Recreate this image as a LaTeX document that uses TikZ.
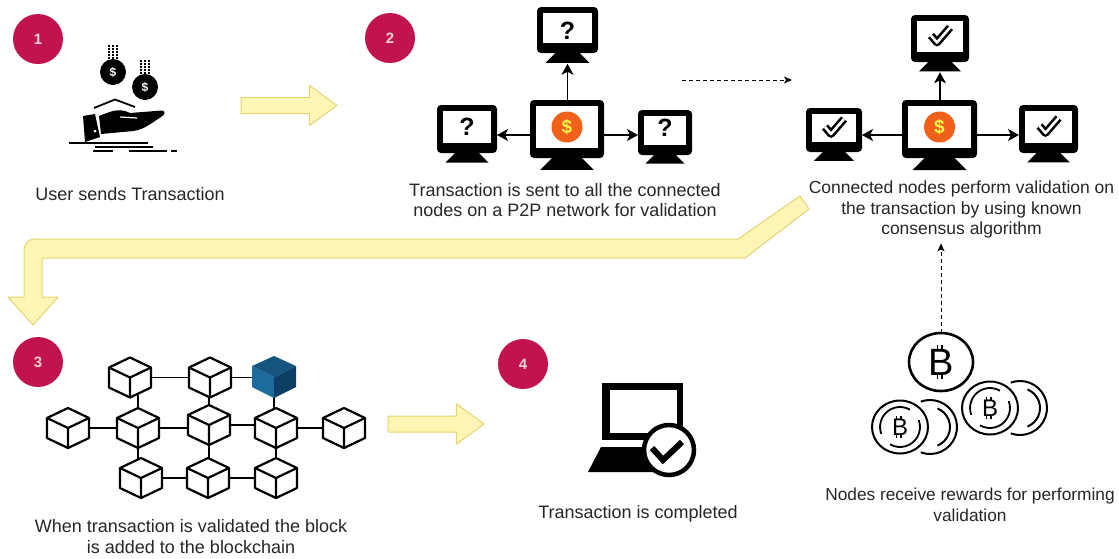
\documentclass[tikz,border=0pt]{standalone}
\usepackage{fontspec}
\setmainfont{Liberation Sans}
\usetikzlibrary{arrows.meta,backgrounds,shapes.geometric,shapes.arrows}
\definecolor{badgered}{HTML}{C0134F}
\definecolor{flowfill}{HTML}{FFF6B5}
\definecolor{flowline}{HTML}{E3D470}
\definecolor{usdorange}{HTML}{F0601A}
\definecolor{cubeleft}{HTML}{1C6A9E}
\definecolor{cuberight}{HTML}{0B3F66}
\definecolor{cubetop}{HTML}{14547F}
\tikzset{
  label/.style={align=center,inner sep=0pt,font=\fontsize{18}{20.5}\selectfont,text=black!85},
  narrowlabel/.style={label,font=\fontsize{17.5}{20.5}\selectfont},
  badge/.style={circle,fill=badgered,minimum size=50pt,inner sep=0pt,text=pink!70,font=\fontsize{15}{15}\selectfont\bfseries},
  flow/.style={draw=flowline,fill=flowfill,line width=1pt,line join=round},
  flowarrow/.style={flow,single arrow,inner xsep=0pt,inner ysep=7.5pt,minimum height=96pt,single arrow head extend=12pt,single arrow tip angle=72},
  link/.style={-{Stealth[length=11pt,width=12pt,inset=3pt]},line width=1.2pt},
  dashlink/.style={-{Stealth[length=8pt,width=7pt,inset=2pt]},line width=1pt,dash pattern=on 4pt off 3pt},
  casing/.style={fill=black,rounded corners=4pt,inner sep=0pt,outer sep=0pt},
  screen/.style={fill=white,inner sep=0pt,outer sep=0pt},
  ask/.style={font=\fontsize{25}{25}\selectfont\bfseries,text=black,inner sep=0pt},
  usd/.style={circle,fill=usdorange,minimum size=31pt,inner sep=0pt,text=yellow!70,font=\fontsize{19}{19}\selectfont\bfseries},
  tickmark/.style={line width=2.6pt,double=white,double distance=2.6pt,line join=round},
  cubehull/.style={inner sep=0pt,outer sep=0pt,minimum width=42pt,minimum height=40pt},
  cubeshape/.pic={
    \draw[line width=2.2pt,line join=round,fill=white] (0,-20) -- (21,-10) -- (21,10) -- (0,20) -- (-21,10) -- (-21,-10) -- cycle;
    \draw[line width=2.2pt,line join=round] (-21,-10) -- (0,0) -- (21,-10) (0,0) -- (0,20);},
  bluecubeshape/.pic={
    \fill[cubeleft] (0,0) -- (0,21) -- (-22,10) -- (-22,-11) -- cycle;
    \fill[cuberight] (0,0) -- (0,21) -- (22,10) -- (22,-11) -- cycle;
    \fill[cubetop] (0,0) -- (-22,-11) -- (0,-21) -- (22,-11) -- cycle;},
  coin/.style={ellipse,draw,line width=2pt,fill=white,inner sep=0pt,outer sep=0pt},
  btc/.style={inner sep=0pt},
  cubelink/.style={line width=1.6pt},
}
% name, left, top, right, bottom
\newcommand{\monitor}[5]{
  \pgfmathsetmacro{\mw}{#4-#2}
  \pgfmathsetmacro{\mh}{#5-#3}
  \pgfmathsetmacro{\mx}{(#2+#4)/2}
  \pgfmathsetmacro{\my}{(#3+#5)/2}
  \pgfmathsetmacro{\sw}{\mw-12}
  \pgfmathsetmacro{\sh}{\mh-16}
  \pgfmathsetmacro{\sy}{\my-2}
  \pgfmathsetmacro{\bh}{0.16*\mw}
  \fill (\mx-0.2*\mw,#5) -- (\mx+0.2*\mw,#5) -- (\mx+0.36*\mw,#5+\bh) -- (\mx-0.36*\mw,#5+\bh) -- cycle;
  \coordinate (#1base) at (\mx,#5+\bh+1);
  \node[casing,minimum width=\mw pt,minimum height=\mh pt] (#1) at (\mx,\my) {};
  \node[screen,minimum width=\sw pt,minimum height=\sh pt] (#1screen) at (\mx,\sy) {};
}
\newcommand{\ticked}[1]{
  \draw[tickmark] ([shift={(-9,-1)}]#1screen.center) -- ([shift={(-3,6)}]#1screen.center) -- ([shift={(10,-9)}]#1screen.center);
}
% name, centre, size
\newcommand{\bitcoin}[3]{
  \node[btc,font=\fontsize{#3}{#3}\selectfont] (#1) at (#2) {B};
  \draw[line width=1.6pt] ([shift={(-3.5,-0.34*#3)}]#1.center) -- ++(0,-0.12*#3) ([shift={(1,-0.34*#3)}]#1.center) -- ++(0,-0.12*#3)
    ([shift={(-3.5,0.34*#3)}]#1.center) -- ++(0,0.12*#3) ([shift={(1,0.34*#3)}]#1.center) -- ++(0,0.12*#3);
}
% name, x, y
\newcommand{\coinstack}[3]{
  \begin{scope}[shift={(#2,#3)}]
    \draw[line width=2pt] (30,0) ++(-110:27pt) arc [start angle=-110,end angle=110,radius=27pt];
    \draw[line width=2pt] (30,0) ++(-68:20pt) arc [start angle=-68,end angle=68,radius=20pt];
    \node[coin,minimum width=56pt,minimum height=53pt] (#1) at (0,0) {};
    \draw[line width=1.8pt] (0,0) ++(60:20pt) arc [start angle=60,end angle=200,radius=20pt];
    \draw[line width=1.8pt] (0,0) ++(240:20pt) arc [start angle=240,end angle=380,radius=20pt];
    \bitcoin{#1sign}{0,0}{24}
  \end{scope}
}
\begin{document}
\begin{tikzpicture}[x=1pt,y=-1pt]
  \useasboundingbox (0,0) rectangle (1119,558);
  \node[badge] (badgeone) at (38,39) {1};
  \node[badge] (badgetwo) at (390,38) {2};
  \node[badge] (badgethree) at (38,362) {3};
  \node[badge] (badgefour) at (523,364) {4};

  \foreach \name/\x/\y in {moneya/113/72,moneyb/145/87} {
    \node[circle,fill=black,minimum size=26pt,inner sep=0pt,text=white,font=\fontsize{12}{12}\selectfont\bfseries] (\name) at (\x,\y) {\$};
    \foreach \dx in {-4,0,4}
      \draw[line width=1.4pt,dash pattern=on 2pt off 1pt] (\x+\dx,\y-13) -- (\x+\dx,\y-27);
  }
  \draw[line width=1.8pt,line join=round] (94,108) -- (115,99.5) -- (135,107);
  \fill (83,116) -- (95,114) -- (100,137) -- (85,142) -- cycle;
  \fill (99,116) .. controls (110,112) and (118,107) .. (130,113) -- (162,110.5) .. controls (166,111) and (165,115) .. (161,117) .. controls (150,124) and (143,131) .. (128,131.5) -- (101,134) -- cycle;
  \draw[white,line width=1.2pt] (120,117) -- (137,118);
  \fill[white] (95,131) circle [radius=1.5pt];
  \draw[line width=1.8pt] (69,143) -- (148,143) (95,147) -- (153,147) (93,151) -- (113,151) (129,151) -- (167,151) (171,151) -- (177,151);
  \node[label] (userlabel) at (130,194) {User sends Transaction};
  \node[flowarrow] (flowone) at (283.5,105.5) {};

  \monitor{maina}{530}{100}{604}{158}
  \monitor{topa}{537}{7}{598}{53}
  \monitor{lefta}{437}{105}{497}{153}
  \monitor{righta}{638}{110}{692}{155}
  \node[ask,yshift=-3pt] (aska) at (topascreen) {?};
  \node[ask] (askb) at (leftascreen) {?};
  \node[ask,yshift=3pt] (askc) at (rightascreen) {?};
  \node[usd] (usda) at (mainascreen) {\$};
  \draw[link] (topabase |- maina.north) -- (topabase);
  \draw[link] ([yshift=-6pt]maina.west) -- ([yshift=-6pt]lefta.east);
  \draw[link] ([yshift=-6pt]maina.east) -- ([yshift=-2.5pt]righta.west);
  \node[label] (sentlabel) at (565,200) {Transaction is sent to all the connected\\nodes on a P2P network for validation};

  \coordinate (dashstart) at (682,80);
  \coordinate (dashend) at (792,80);
  \draw[dashlink] (dashstart) -- (dashend);

  \monitor{mainb}{902}{100}{977}{158}
  \monitor{topb}{911}{15}{969}{62}
  \monitor{leftb}{806}{108}{862}{152}
  \monitor{rightb}{1019}{105}{1078}{153}
  \ticked{topb}
  \ticked{leftb}
  \ticked{rightb}
  \node[usd] (usdb) at (mainbscreen) {\$};
  \draw[link] (topbbase |- mainb.north) -- (topbbase);
  \draw[link] ([yshift=-6pt]mainb.west) -- ([yshift=-5pt]leftb.east);
  \draw[link] ([yshift=-6pt]mainb.east) -- ([yshift=-6pt]rightb.west);
  \node[narrowlabel] (validlabel) at (961.5,209.5) {Connected nodes perform validation on\\the transaction by using known\\consensus algorithm};

  \draw[flow] (800,196) -- (809,209) -- (745,258) -- (42,258) -- (42,297) -- (58,297) -- (33,325) -- (8,297) -- (24,297) -- (24,252) .. controls (24,243) and (28,239) .. (36,239) -- (738,239) -- cycle;

  \foreach \name/\x/\y in {ta/130/377.5,tb/210/377.5,ma/68/428,mb/138/428,mc/209/425,md/276/428,me/344/428,ba/141/478,bb/208/478,bc/276/478} {
    \node[cubehull] (\name) at (\x,\y) {};
    \pic at (\name) {cubeshape};
  }
  \node[cubehull] (tc) at (274,377) {};
  \pic at (tc) {bluecubeshape};
  \begin{scope}[on background layer]
    \foreach \from/\to in {ta/tb,tb/tc,ma/mb,mb/mc,mc/md,md/me,ba/bb,bb/bc}
      \draw[cubelink] (\from.center) -- (\from.center -| \to.center);
    \foreach \from/\to/\via in {ta/mb/mb,tb/mc/mc,tc/md/tc,mb/ba/mb,mc/bb/mc,md/bc/md}
      \draw[cubelink] (\via.center |- \from.center) -- (\via.center |- \to.center);
  \end{scope}
  \node[label] (blocklabel) at (191,536.5) {When transaction is validated the block\\is added to the blockchain};
  \node[flowarrow] (flowtwo) at (430.5,424) {};

  \fill (602,383) rectangle (683,440);
  \fill[white] (610,390) rectangle (677,433);
  \fill (601,447) -- (655,447) -- (655,472) -- (588,472) -- cycle;
  \node[circle,draw,line width=4.5pt,fill=white,minimum size=50pt,inner sep=0pt] (donemark) at (669,450) {};
  \draw[line width=6pt] ([shift={(-17,-2)}]donemark.center) -- ([shift={(-6,10)}]donemark.center) -- ([shift={(13,-8)}]donemark.center);
  \node[label] (donelabel) at (638,514) {Transaction is completed};

  \node[coin,line width=2.6pt,minimum width=64pt,minimum height=58pt] (coinmain) at (941,362) {};
  \bitcoin{coinmainsign}{941,362}{38}
  \coinstack{coinleft}{900}{427}
  \coinstack{coinright}{990}{408}
  \draw[dashlink,shorten >=5pt] (coinmain.north) -- (validlabel.south -| coinmain.north);
  \node[narrowlabel,font=\fontsize{17.3}{20.5}\selectfont] (rewardlabel) at (970,505) {Nodes receive rewards for performing\\validation};
\end{tikzpicture}
\end{document}
